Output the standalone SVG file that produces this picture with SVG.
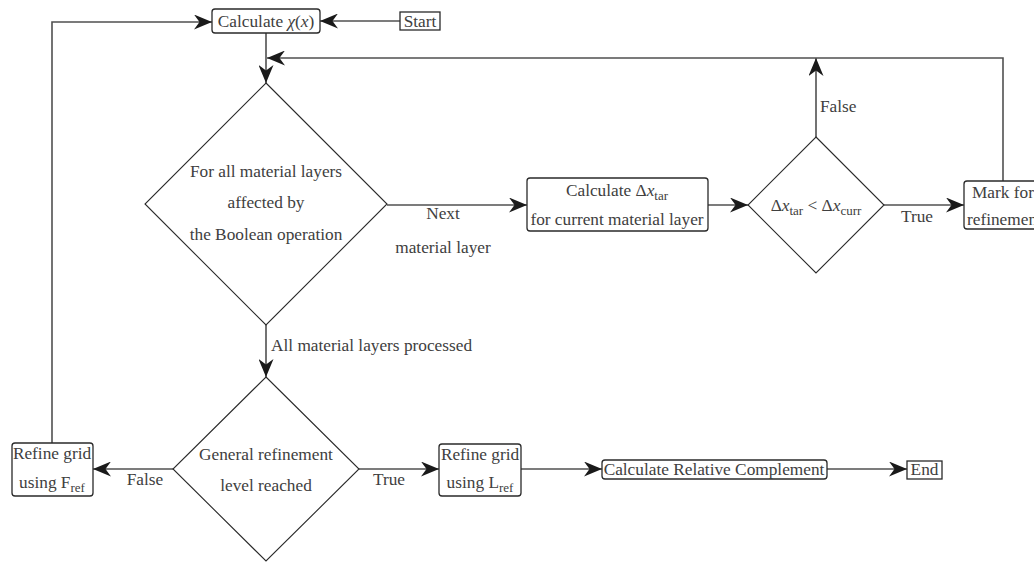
<svg xmlns="http://www.w3.org/2000/svg" width="1034" height="562" viewBox="0 0 1034 562">
<style>
text{font-family:"Liberation Serif","Times New Roman",serif;font-size:17.3px;fill:#404040;text-anchor:middle}
.l{text-anchor:start}
.box{fill:#fff;stroke:#2a2a2a;stroke-width:1.3}
.dia{fill:#fff;stroke:#2a2a2a;stroke-width:1.1}
.c{fill:none;stroke:#505050;stroke-width:1.6}
.sub{font-size:13px}
.it{font-style:italic}
</style>
<defs>
<marker id="ah" markerUnits="userSpaceOnUse" markerWidth="19" markerHeight="15" refX="18" refY="7.5" orient="auto">
<path d="M0,0 L18,7.5 L0,15 L5.5,7.5 Z" fill="#1a1a1a"/>
</marker>
</defs>
<g id="connectors">
<line class="c" x1="400" y1="21" x2="320" y2="21" marker-end="url(#ah)"/>
<line class="c" x1="266" y1="33" x2="266" y2="83" marker-end="url(#ah)"/>
<line class="c" x1="387" y1="205" x2="527" y2="205" marker-end="url(#ah)"/>
<text x="443" y="219">Next</text>
<text x="443" y="253">material layer</text>
<line class="c" x1="708" y1="205" x2="748" y2="205" marker-end="url(#ah)"/>
<line class="c" x1="884" y1="205" x2="964" y2="205" marker-end="url(#ah)"/>
<text x="917" y="222">True</text>
<line class="c" x1="816" y1="137" x2="816" y2="58" marker-end="url(#ah)"/>
<text class="l" x="820" y="112">False</text>
<polyline class="c" points="1003,181 1003,58 267,58" marker-end="url(#ah)"/>
<line class="c" x1="266" y1="325" x2="266" y2="377" marker-end="url(#ah)"/>
<text class="l" x="271" y="351">All material layers processed</text>
<line class="c" x1="173" y1="469" x2="93" y2="469" marker-end="url(#ah)"/>
<text x="145" y="485">False</text>
<polyline class="c" points="52,443 52,22 212,22" marker-end="url(#ah)"/>
<line class="c" x1="359" y1="469" x2="439" y2="469" marker-end="url(#ah)"/>
<text x="389" y="485">True</text>
<line class="c" x1="521" y1="469" x2="602" y2="469" marker-end="url(#ah)"/>
<line class="c" x1="827" y1="469" x2="907" y2="469" marker-end="url(#ah)"/>
</g>
<g id="start">
<rect class="box" x="400" y="12" width="40" height="18"/>
<text x="420" y="27">Start</text>
</g>
<g id="calc-chi">
<rect class="box" x="212" y="9" width="108" height="24" rx="3"/>
<text x="266" y="27">Calculate <tspan class="it">χ</tspan>(<tspan class="it">x</tspan>)</text>
</g>
<g id="loop-diamond">
<polygon class="dia" points="266,83 387,204 266,325 145,204"/>
<text x="266" y="177">For all material layers</text>
<text x="266" y="208">affected by</text>
<text x="266" y="240">the Boolean operation</text>
</g>
<g id="calc-dx">
<rect class="box" x="527" y="178" width="181" height="53" rx="3"/>
<text x="617" y="196">Calculate Δ<tspan class="it">x</tspan><tspan class="sub" dy="4">tar</tspan></text>
<text x="617" y="225">for current material layer</text>
</g>
<g id="compare-diamond">
<polygon class="dia" points="816,137 884,205 816,273 748,205"/>
<text x="816" y="211">Δ<tspan class="it">x</tspan><tspan class="sub" dy="4">tar</tspan><tspan dy="-4"> &lt; Δ</tspan><tspan class="it">x</tspan><tspan class="sub" dy="4">curr</tspan></text>
</g>
<g id="mark">
<rect class="box" x="964" y="181" width="84" height="48" rx="3"/>
<text class="l" x="972" y="198">Mark for</text>
<text class="l" x="967" y="225">refinement</text>
</g>
<g id="general-diamond">
<polygon class="dia" points="266,377 359,469 266,561 173,469"/>
<text x="266" y="460">General refinement</text>
<text x="266" y="491">level reached</text>
</g>
<g id="refine-f">
<rect class="box" x="12" y="443" width="81" height="53" rx="3"/>
<text x="52" y="459">Refine grid</text>
<text x="52" y="488">using F<tspan class="sub" dy="4">ref</tspan></text>
</g>
<g id="refine-l">
<rect class="box" x="439" y="444" width="82" height="52" rx="3"/>
<text x="480" y="460">Refine grid</text>
<text x="480" y="488">using L<tspan class="sub" dy="4">ref</tspan></text>
</g>
<g id="calc-rel">
<rect class="box" x="602" y="460" width="225" height="19" rx="3"/>
<text x="714" y="475">Calculate Relative Complement</text>
</g>
<g id="end">
<rect class="box" x="907" y="461" width="35" height="18"/>
<text x="924.5" y="475">End</text>
</g>
</svg>
